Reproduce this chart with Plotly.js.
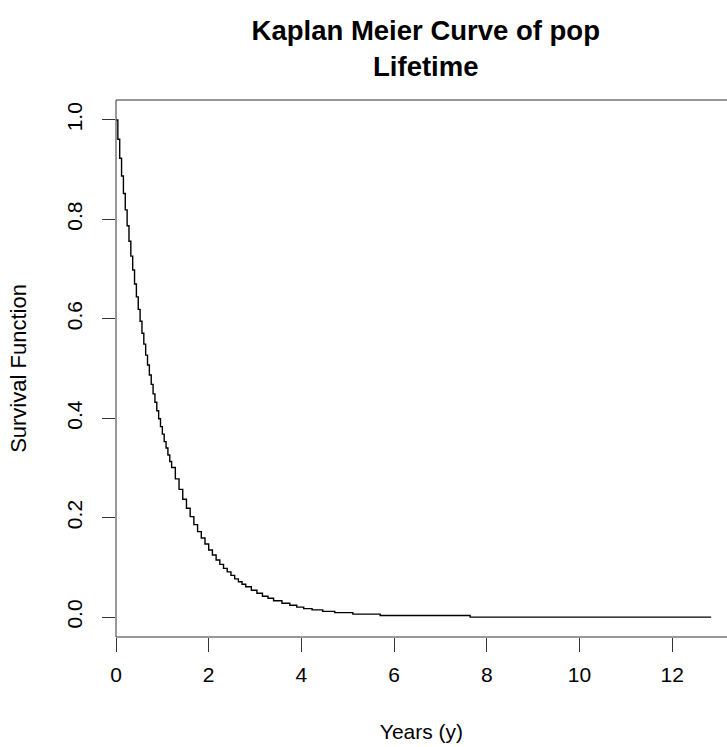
<!DOCTYPE html>
<html>
<head>
<meta charset="utf-8">
<script src="https://cdn.plot.ly/plotly-3.0.1.min.js"></script>
<style>html,body{margin:0;padding:0;background:#fff;}</style>
</head>
<body>
<div id="chart" style="width:727px;height:747px;"></div>
<script>
// Kaplan-Meier estimate (years, survival)
const years = [0, 0.04, 0.08, 0.12, 0.16, 0.20, 0.24, 0.28, 0.32, 0.36, 0.40, 0.44, 0.48, 0.52, 0.56, 0.60,
  0.64, 0.68, 0.72, 0.76, 0.80, 0.84, 0.88, 0.92, 0.96, 1.00, 1.04, 1.08, 1.12, 1.16, 1.20,
  1.28, 1.36, 1.44, 1.52, 1.60, 1.68, 1.76, 1.84, 1.92, 2.00, 2.08, 2.16, 2.24, 2.32, 2.40,
  2.48, 2.56, 2.64, 2.72, 2.80, 2.92, 3.04, 3.16, 3.28, 3.40, 3.58, 3.75, 3.90, 4.05, 4.23,
  4.46, 4.72, 5.11, 5.70, 7.64, 12.84];
const survival = [1.000, 0.961, 0.923, 0.887, 0.852, 0.819, 0.787, 0.756, 0.726, 0.698, 0.670, 0.644, 0.619, 0.595, 0.571, 0.549,
  0.527, 0.507, 0.487, 0.468, 0.449, 0.432, 0.415, 0.399, 0.383, 0.368, 0.353, 0.340, 0.326, 0.313, 0.301,
  0.278, 0.257, 0.237, 0.219, 0.202, 0.186, 0.172, 0.159, 0.147, 0.135, 0.125, 0.115, 0.106, 0.098, 0.091,
  0.084, 0.077, 0.071, 0.066, 0.061, 0.054, 0.048, 0.042, 0.038, 0.033, 0.028, 0.024, 0.020, 0.017, 0.0145,
  0.0115, 0.009, 0.006, 0.0033, 0, 0];
const xTicks = [0, 2, 4, 6, 8, 10, 12];
const yTicks = [0, 0.2, 0.4, 0.6, 0.8, 1.0];
const yTickLabels = ["0.0", "0.2", "0.4", "0.6", "0.8", "1.0"];

const FONT = "Liberation Sans, Arial, Helvetica, sans-serif";
const AX = "#333333";

const trace = {
  x: years, y: survival, type: "scatter", mode: "lines",
  line: {color: "#000000", width: 1.4, shape: "hv"},
  hoverinfo: "skip"
};

const layout = {
  width: 727, height: 747,
  margin: {l: 116, r: 0, t: 100, b: 110, pad: 0},
  paper_bgcolor: "#ffffff", plot_bgcolor: "#ffffff",
  showlegend: false,
  font: {family: FONT, color: "#000000", size: 21},
  title: {
    text: "Kaplan Meier Curve of pop<br>Lifetime",
    font: {family: FONT, size: 27.5, color: "#000000", weight: "bold"},
    xref: "paper", x: 0.507, xanchor: "center",
    yref: "container", y: 0.946, yanchor: "top"
  },
  xaxis: {
    range: [0, 13.182], autorange: false,
    tickmode: "array", tickvals: xTicks, ticktext: xTicks.map(String),
    ticks: "outside", ticklen: 14, tickwidth: 1, tickcolor: AX,
    ticklabelstandoff: 5,
    showgrid: false, zeroline: false, showline: false,
    tickfont: {family: FONT, size: 21, color: "#000000"},
    title: {text: "Years (y)", font: {family: FONT, size: 21, color: "#000000"}, standoff: 39}
  },
  yaxis: {
    range: [-0.04, 1.04], autorange: false,
    tickmode: "array", tickvals: yTicks, ticktext: yTickLabels,
    tickangle: -90,
    ticks: "outside", ticklen: 13, tickwidth: 1, tickcolor: AX,
    ticklabelstandoff: 12,
    showgrid: false, zeroline: false, showline: false,
    tickfont: {family: FONT, size: 21, color: "#000000"},
    title: {text: "Survival Function", font: {family: FONT, size: 22, color: "#000000"}, standoff: 29}
  },
  shapes: [
    {type: "line", xref: "paper", yref: "paper", x0: 0, x1: 1, y0: 1, y1: 1, line: {color: AX, width: 1}},
    {type: "line", xref: "paper", yref: "paper", x0: 0, x1: 1, y0: 0, y1: 0, line: {color: AX, width: 1}},
    {type: "line", xref: "paper", yref: "paper", x0: 0, x1: 0, y0: 0, y1: 1, line: {color: AX, width: 1}}
  ]
};

Plotly.newPlot("chart", [trace], layout, {displayModeBar: false, staticPlot: true});
</script>
</body>
</html>
